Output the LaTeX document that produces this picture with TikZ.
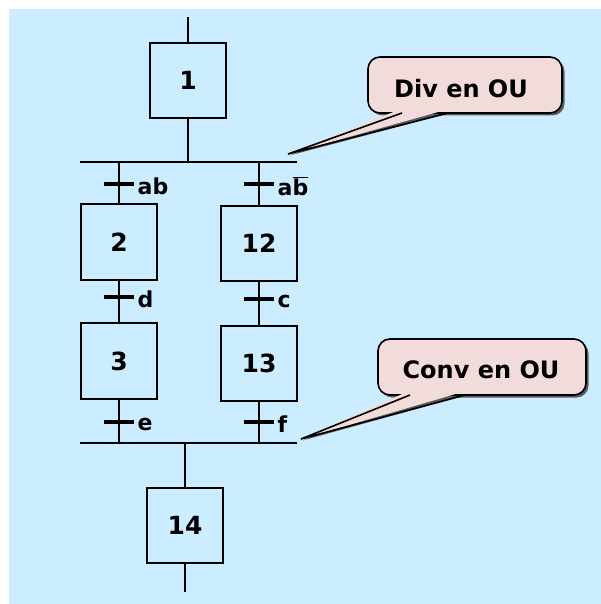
\documentclass[tikz,border=0pt]{standalone}
\usepackage{fontspec}
\setmainfont{DejaVu Sans}
\usetikzlibrary{calc}
\definecolor{bgblue}{RGB}{204,236,255}
\definecolor{callpink}{RGB}{242,220,219}
\definecolor{shadowgray}{RGB}{90,90,90}
\begin{document}
\begin{tikzpicture}[x=1pt,y=-1pt,
  stepbox/.style={draw,line width=2pt,minimum width=76pt,minimum height=76pt,inner sep=0pt,
     font=\fontsize{25}{28}\selectfont\bfseries},
  tick/.style={fill=black,minimum width=30pt,minimum height=4pt,inner sep=0pt,
     label distance=9pt},
  lbl/.style={font=\fontsize{22}{25}\selectfont\bfseries},
  wire/.style={line width=2pt},
  callfill/.style={fill=callpink},
  callline/.style={draw=black,line width=1.6pt},
  calltext/.style={font=\fontsize{24}{27}\selectfont\bfseries,inner sep=0pt}]
\useasboundingbox (0,0) rectangle (601,604);
\fill[bgblue] (9,9) rectangle (601,604);

% steps
\node[stepbox,minimum height=75pt] (s1) at (188,80.5) {1};
\node[stepbox] (s2) at (119,242) {2};
\node[stepbox,minimum height=75pt] (s12) at (259,243.5) {12};
\node[stepbox] (s3) at (119,361) {3};
\node[stepbox,minimum height=75pt] (s13) at (259,363.5) {13};
\node[stepbox,minimum height=75pt] (s14) at (185,525.5) {14};

% buses
\coordinate (b1l) at (80,162);
\coordinate (b1r) at (297,162);
\coordinate (b2l) at (80,443);
\coordinate (b2r) at (297,443);
\draw[wire] (b1l) -- (b1r);
\draw[wire] (b2l) -- (b2r);

% entry / exit
\coordinate (top) at (188,17);
\coordinate (bot) at (185,592);
\draw[wire] (top) -- (s1.north);
\draw[wire] (s1.south) -- (s1.south |- b1l);
\draw[wire] (s14.south) -- (bot);
\draw[wire] (s14.north |- b2l) -- (s14.north);

% transitions
\node[tick,label={[lbl,yshift=-2pt]right:ab}] (tab) at (119,184) {};
\node[tick,label={[lbl,yshift=-2pt]right:a\ensuremath{\overline{\hbox{b}}}}] (tabn) at (259,184) {};
\node[tick,label={[lbl,yshift=-2pt]right:d}] (td) at (119,297) {};
\node[tick,label={[lbl,yshift=-2pt]right:c}] (tc) at (259,299) {};
\node[tick,label={[lbl,yshift=-2pt]right:e}] (te) at (119,422) {};
\node[tick,label={[lbl,yshift=-2pt]right:f}] (tf) at (259,422) {};

\draw[wire] (tab |- b1l) -- (s2.north);
\draw[wire] (tabn |- b1l) -- (s12.north);
\draw[wire] (s2.south) -- (s3.north);
\draw[wire] (s12.south) -- (s13.north);
\draw[wire] (s3.south) -- (s3.south |- b2l);
\draw[wire] (s13.south) -- (s13.south |- b2l);

% callout 1
\coordinate (tip1) at (288,154);
\fill[shadowgray,rounded corners=12pt] (370.5,59.5) rectangle (564.5,115.5);
\fill[shadowgray] (404,113) -- ($(tip1)+(1.5,1.5)$) -- (450,113) -- cycle;
\draw[callline,callfill,rounded corners=12pt] (368,57) rectangle (562,113);
\fill[callpink] (401,109) -- (tip1) -- (449,109) -- cycle;
\draw[callline,line join=miter] (402,113) -- (tip1) -- (448,113);
\node[calltext] (c1) at (461,89) {Div en OU};

% callout 2
\coordinate (tip2) at (301,439);
\fill[shadowgray,rounded corners=12pt] (380.5,341.5) rectangle (588.5,397.5);
\fill[shadowgray] (412,395) -- ($(tip2)+(1.5,1.5)$) -- (467,395) -- cycle;
\draw[callline,callfill,rounded corners=12pt] (378,339) rectangle (586,395);
\fill[callpink] (409,391) -- (tip2) -- (466,391) -- cycle;
\draw[callline,line join=miter] (410,395) -- (tip2) -- (465,395);
\node[calltext] (c2) at (481,370) {Conv en OU};
\end{tikzpicture}
\end{document}
